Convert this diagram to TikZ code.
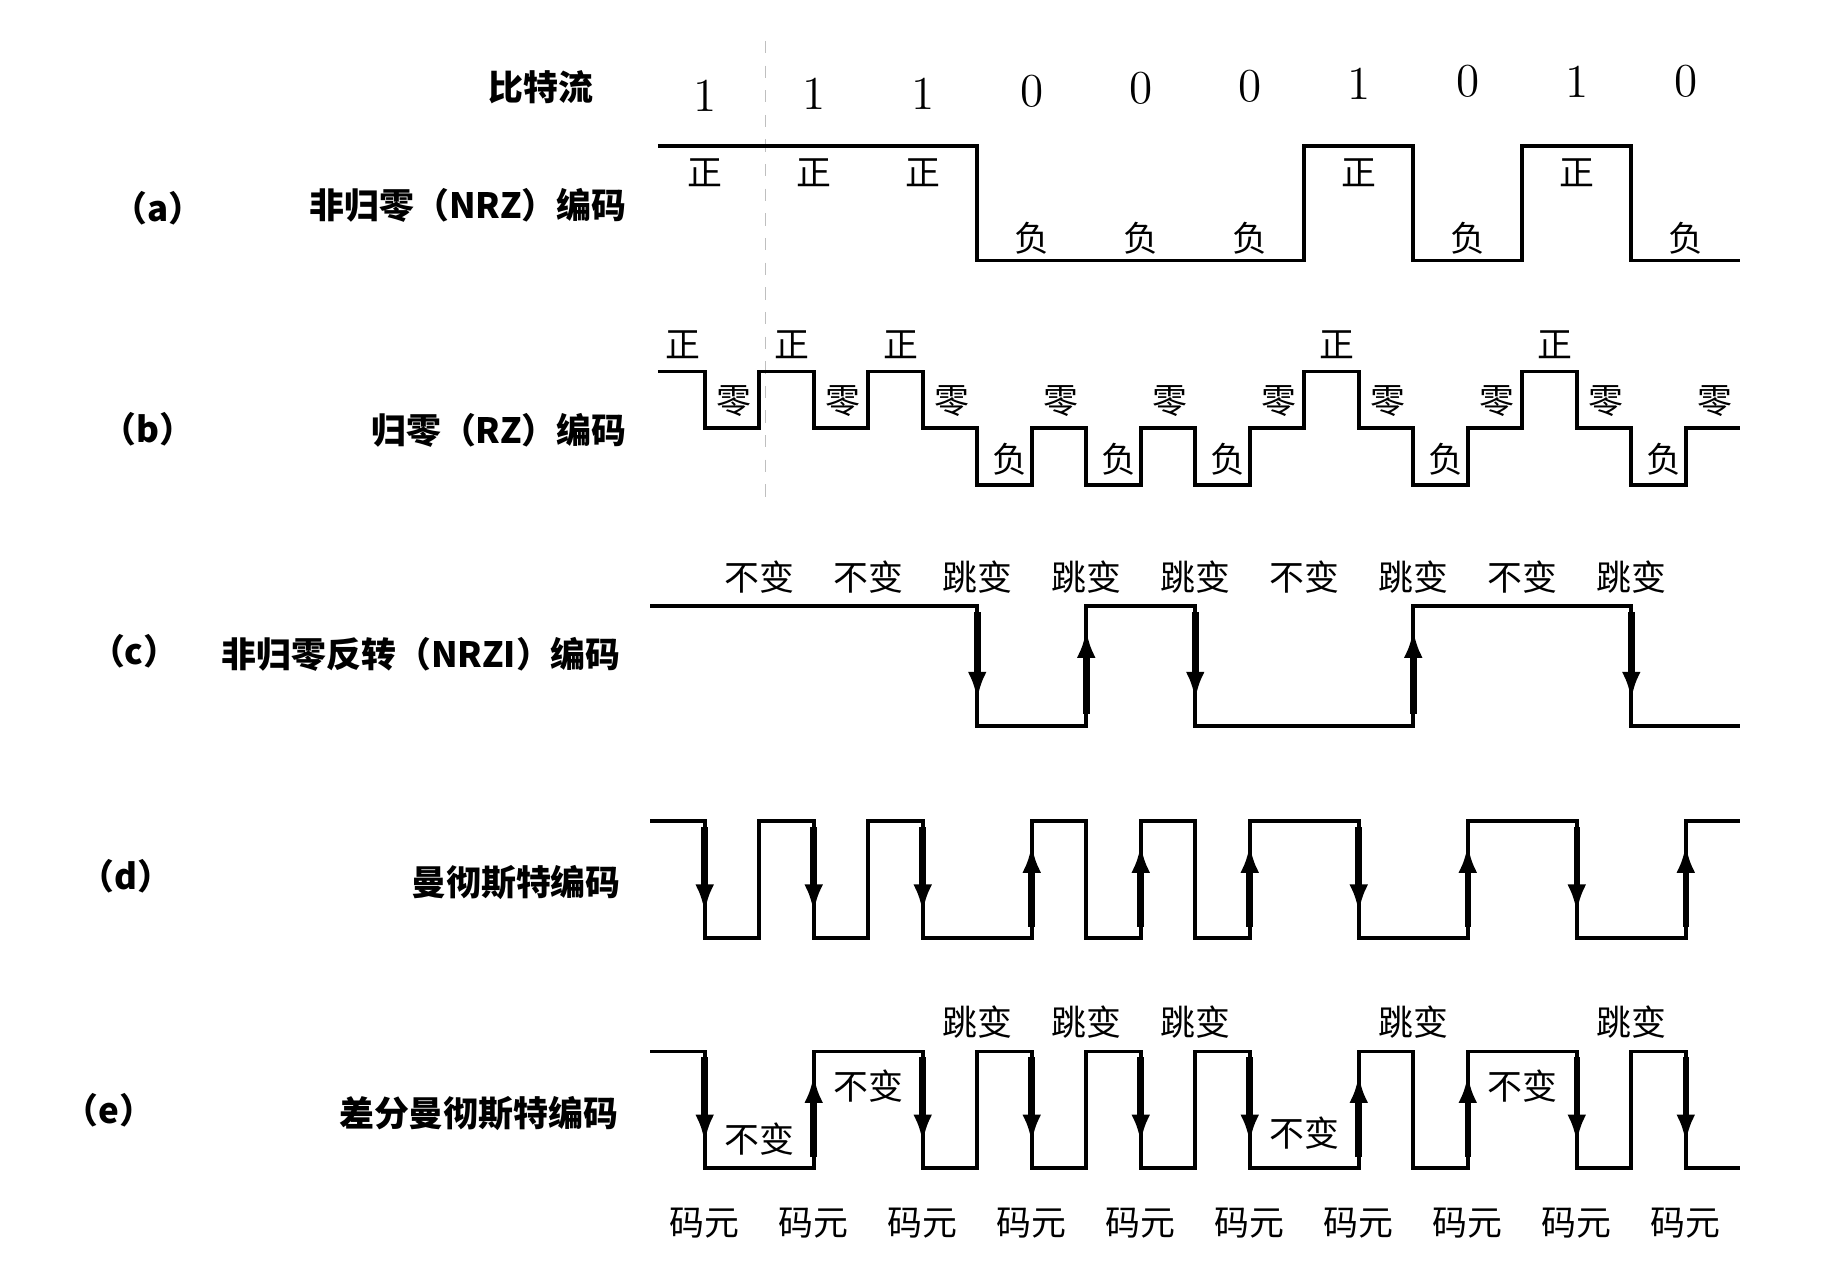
\documentclass[tikz,border=0pt]{standalone}
\usepackage{fontspec}
\usepackage{tikz}
\usetikzlibrary{arrows.meta}
\newfontfamily\cjk{Noto Sans CJK SC}
\tikzset{
  sig/.style={black,line width=0.95pt},
  flip/.style={-{Latex[length=2.4mm,width=1.6mm]},black,line width=1.6pt},
  guide/.style={black!25,dashed,line width=0.3pt},
  lbl/.style={font=\cjk\fontsize{8.5}{10}\selectfont,inner sep=0pt},
  ttl/.style={font=\cjk\bfseries\fontsize{8.5}{10}\selectfont,inner sep=0pt},
  bitnum/.style={font=\fontsize{11.5}{13}\selectfont,inner sep=0pt},
}

\begin{document}
\begin{tikzpicture}
  \useasboundingbox (0,0) rectangle (15.68,-10.95);
  \draw[guide] (6.55,-0.35)--(6.55,-4.35);
  % row titles
  \node[ttl] (bits) at (4.63,-0.75) {比特流};
  \node[ttl] (tagA) at (1.35,-1.78) {（a）};
  \node[ttl,anchor=east] (nameA) at (5.37,-1.76) {非归零（NRZ）编码};
  \node[ttl] (tagB) at (1.27,-3.67) {（b）};
  \node[ttl,anchor=east] (nameB) at (5.37,-3.68) {归零（RZ）编码};
  \node[ttl] (tagC) at (1.15,-5.57) {（c）};
  \node[ttl,anchor=east] (nameC) at (5.32,-5.60) {非归零反转（NRZI）编码};
  \node[ttl] (tagD) at (1.08,-7.50) {（d）};
  \node[ttl,anchor=east] (nameD) at (5.32,-7.55) {曼彻斯特编码};
  \node[ttl] (tagE) at (0.93,-9.50) {（e）};
  \node[ttl,anchor=east] (nameE) at (5.30,-9.53) {差分曼彻斯特编码};

  \begin{scope}[xshift=5.565cm,x=0.933cm]
    % bit stream
    \foreach \b/\y [count=\i from 0] in {1/0.82,1/0.80,1/0.80,0/0.78,0/0.76,0/0.74,1/0.72,0/0.70,1/0.70,0/0.70}
      \node[bitnum] (bit\i) at (\i+0.5,-\y) {\b};

    % (a) NRZ
    \draw[sig] (0.07,-1.25)--(3,-1.25)--(3,-2.23)--(6,-2.23)--(6,-1.25)--(7,-1.25)--(7,-2.23)
      --(8,-2.23)--(8,-1.25)--(9,-1.25)--(9,-2.23)--(10,-2.23);
    \foreach \i in {0,1,2,6,8} \node[lbl] (posA\i) at (\i+0.5,-1.48) {正};
    \foreach \i in {3,4,5,7,9} \node[lbl] (negA\i) at (\i+0.5,-2.04) {负};

    % (b) RZ
    \draw[sig] (0.07,-3.18)--(0.5,-3.18)--(0.5,-3.66)--(1,-3.66)--(1,-3.18)--(1.5,-3.18)--(1.5,-3.66)
      --(2,-3.66)--(2,-3.18)--(2.5,-3.18)--(2.5,-3.66)--(3,-3.66)--(3,-4.15)--(3.5,-4.15)--(3.5,-3.66)
      --(4,-3.66)--(4,-4.15)--(4.5,-4.15)--(4.5,-3.66)--(5,-3.66)--(5,-4.15)--(5.5,-4.15)--(5.5,-3.66)
      --(6,-3.66)--(6,-3.18)--(6.5,-3.18)--(6.5,-3.66)--(7,-3.66)--(7,-4.15)--(7.5,-4.15)--(7.5,-3.66)
      --(8,-3.66)--(8,-3.18)--(8.5,-3.18)--(8.5,-3.66)--(9,-3.66)--(9,-4.15)--(9.5,-4.15)--(9.5,-3.66)
      --(10,-3.66);
    \foreach \i in {0,1,2,6,8} \node[lbl] (posB\i) at (\i+0.3,-2.95) {正};
    \foreach \i in {0,...,9} \node[lbl] (zeroB\i) at (\i+0.77,-3.43) {零};
    \foreach \i in {3,4,5,7,9} \node[lbl] (negB\i) at (\i+0.3,-3.93) {负};

    % (c) NRZI
    \draw[sig] (0,-5.19)--(3,-5.19)--(3,-6.21)--(4,-6.21)--(4,-5.19)--(5,-5.19)--(5,-6.21)
      --(7,-6.21)--(7,-5.19)--(9,-5.19)--(9,-6.21)--(10,-6.21);
    \foreach \x in {3,5,9} \draw[flip] (\x,-5.24)--(\x,-5.99);
    \foreach \x in {4,7} \draw[flip] (\x,-6.11)--(\x,-5.39);
    \foreach \t [count=\i] in {不变,不变,跳变,跳变,跳变,不变,跳变,不变,跳变}
      \node[lbl] (stepC\i) at (\i,-4.94) {\t};

    % (d) Manchester
    \draw[sig] (0,-7.03)--(0.5,-7.03)--(0.5,-8.03)--(1,-8.03)--(1,-7.03)--(1.5,-7.03)--(1.5,-8.03)
      --(2,-8.03)--(2,-7.03)--(2.5,-7.03)--(2.5,-8.03)--(3.5,-8.03)--(3.5,-7.03)--(4,-7.03)--(4,-8.03)
      --(4.5,-8.03)--(4.5,-7.03)--(5,-7.03)--(5,-8.03)--(5.5,-8.03)--(5.5,-7.03)--(6.5,-7.03)
      --(6.5,-8.03)--(7.5,-8.03)--(7.5,-7.03)--(8.5,-7.03)--(8.5,-8.03)--(9.5,-8.03)--(9.5,-7.03)
      --(10,-7.03);
    \foreach \x in {0.5,1.5,2.5,6.5,8.5} \draw[flip] (\x,-7.08)--(\x,-7.81);
    \foreach \x in {3.5,4.5,5.5,7.5,9.5} \draw[flip] (\x,-7.93)--(\x,-7.23);

    % (e) differential Manchester
    \draw[sig] (0,-9.00)--(0.5,-9.00)--(0.5,-10.00)--(1.5,-10.00)--(1.5,-9.00)--(2.5,-9.00)
      --(2.5,-10.00)--(3,-10.00)--(3,-9.00)--(3.5,-9.00)--(3.5,-10.00)--(4,-10.00)--(4,-9.00)
      --(4.5,-9.00)--(4.5,-10.00)--(5,-10.00)--(5,-9.00)--(5.5,-9.00)--(5.5,-10.00)--(6.5,-10.00)
      --(6.5,-9.00)--(7,-9.00)--(7,-10.00)--(7.5,-10.00)--(7.5,-9.00)--(8.5,-9.00)--(8.5,-10.00)
      --(9,-10.00)--(9,-9.00)--(9.5,-9.00)--(9.5,-10.00)--(10,-10.00);
    \foreach \x in {0.5,2.5,3.5,4.5,5.5,8.5,9.5} \draw[flip] (\x,-9.05)--(\x,-9.78);
    \foreach \x in {1.5,6.5,7.5} \draw[flip] (\x,-9.90)--(\x,-9.20);
    \foreach \x in {3,4,5,7,9} \node[lbl] (jumpE\x) at (\x,-8.75) {跳变};
    \node[lbl] (keepE1) at (1,-9.75) {不变};
    \node[lbl] (keepE2) at (2,-9.30) {不变};
    \node[lbl] (keepE6) at (6,-9.70) {不变};
    \node[lbl] (keepE8) at (8,-9.30) {不变};

    % code elements
    \foreach \i in {0,...,9} \node[lbl] (sym\i) at (\i+0.5,-10.47) {码元};
  \end{scope}
\end{tikzpicture}
\end{document}
